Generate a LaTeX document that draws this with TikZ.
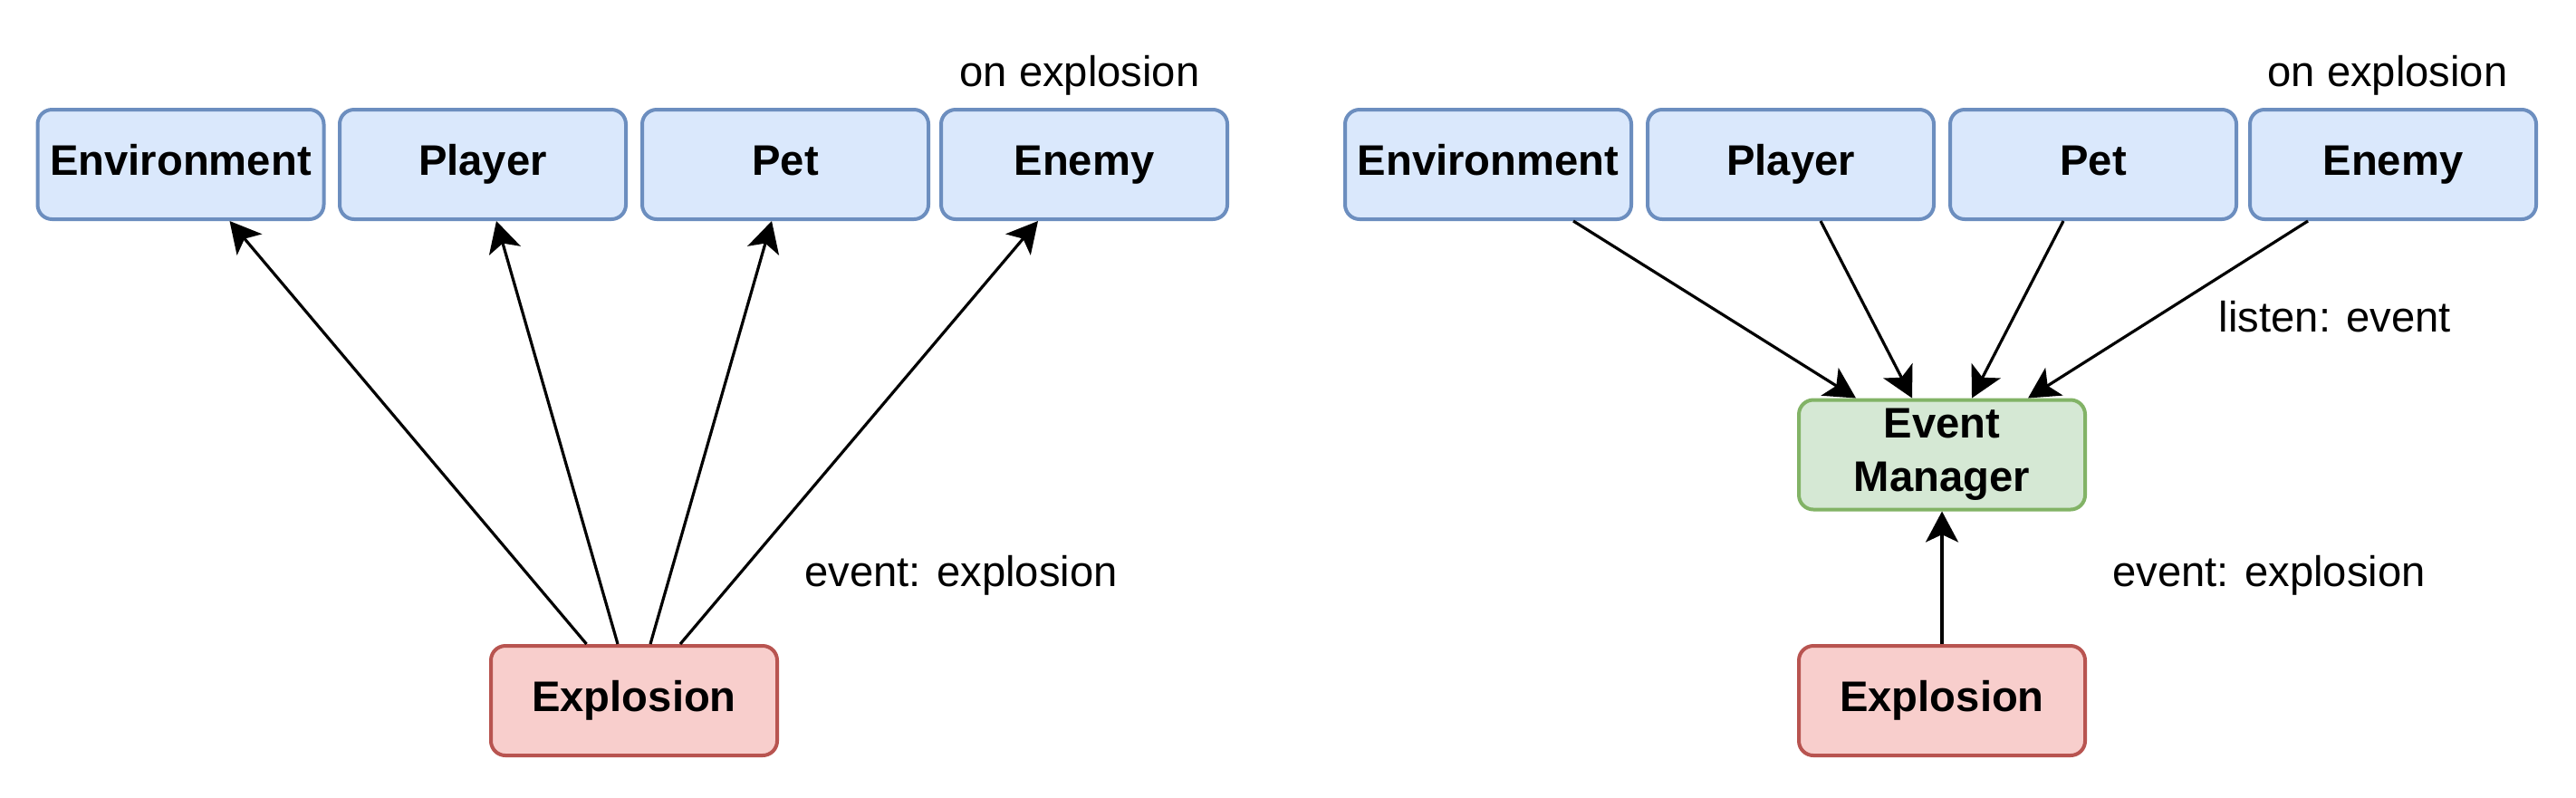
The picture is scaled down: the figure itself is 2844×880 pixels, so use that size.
\documentclass[tikz,border=0pt]{standalone}
\usepackage{fontspec}
\setmainfont{Liberation Sans}
\usetikzlibrary{arrows.meta,calc}
\definecolor{bluefill}{HTML}{DAE8FC}
\definecolor{bluedraw}{HTML}{6C8EBF}
\definecolor{redfill}{HTML}{F8CECC}
\definecolor{reddraw}{HTML}{B85450}
\definecolor{greenfill}{HTML}{D5E8D4}
\definecolor{greendraw}{HTML}{82B366}
\begin{document}
\begin{tikzpicture}[x=0.25pt,y=-0.25pt,
  box/.style={rectangle, rounded corners=4pt, line width=1pt, minimum width=79pt,
    minimum height=30.25pt, inner sep=0pt, align=center,
    font=\fontsize{11.8}{14.7}\selectfont\bfseries},
  oneline/.style={text height=8.45pt, text depth=2.5pt},
  bluebox/.style={box, oneline, fill=bluefill, draw=bluedraw},
  redbox/.style={box, oneline, fill=redfill, draw=reddraw},
  greenbox/.style={box, fill=greenfill, draw=greendraw},
  lbl/.style={inner sep=0pt, font=\fontsize{11.8}{14}\selectfont},
  arr/.style={-{Stealth[length=8.5pt,width=9pt,inset=2.1pt]}, line width=0.8pt, black}
]
\useasboundingbox (0,0) rectangle (2844,880);

% Left panel
\node[bluebox] (envA) at (199.5,181.5) {Environment};
\node[bluebox] (plaA) at (533,181.5) {Player};
\node[bluebox] (petA) at (867,181.5) {Pet};
\node[bluebox] (eneA) at (1197,181.5) {Enemy};
\node[redbox] (expA) at (700,773.5) {Explosion};
\node[lbl] (onA) at (1192,83.5) {on explosion};
\node[lbl] (evA) at (1061,635) {event: explosion};

\draw[arr] ($(expA.north)+(-52.5,0)$) -- ($(envA.south)+(54,0)$);
\draw[arr] ($(expA.north)+(-18,0)$) -- ($(plaA.south)+(15,0)$);
\draw[arr] ($(expA.north)+(18,0)$) -- ($(petA.south)+(-15,0)$);
\draw[arr] ($(expA.north)+(51,0)$) -- ($(eneA.south)+(-51,0)$);

% Right panel
\node[bluebox] (envB) at (1643,181.5) {Environment};
\node[bluebox] (plaB) at (1977,181.5) {Player};
\node[bluebox] (petB) at (2311,181.5) {Pet};
\node[bluebox] (eneB) at (2642,181.5) {Enemy};
\node[greenbox] (em) at (2144,502) {Event\\Manager};
\node[redbox] (expB) at (2144,773.5) {Explosion};
\node[lbl] (onB) at (2636,83.5) {on explosion};
\node[lbl] (liB) at (2578,350) {listen: event};
\node[lbl] (evB) at (2505,635) {event: explosion};

\draw[arr] ($(envB.south)+(94,0)$) -- ($(em.north)+(-95,0)$);
\draw[arr] ($(plaB.south)+(33,0)$) -- ($(em.north)+(-33,0)$);
\draw[arr] ($(petB.south)+(-33,0)$) -- ($(em.north)+(33,0)$);
\draw[arr] ($(eneB.south)+(-94,0)$) -- ($(em.north)+(95,0)$);
\draw[arr] (expB.north) -- (em.south);
\end{tikzpicture}
\end{document}
